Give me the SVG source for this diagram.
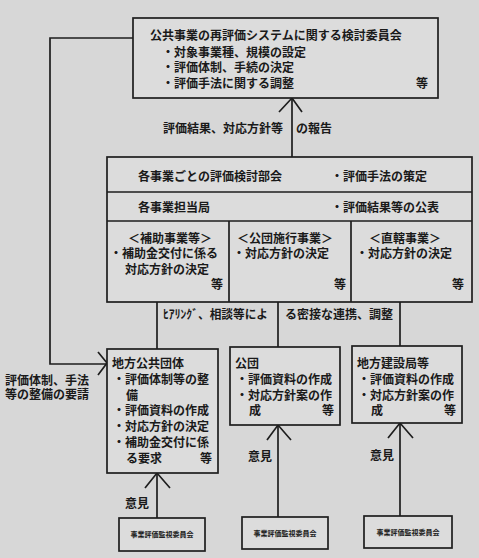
<svg xmlns="http://www.w3.org/2000/svg" width="479" height="558" viewBox="0 0 479 558">
<style>
  .bg{fill:#d7d7d7}
  .box{fill:#dcdcdc;stroke:#1e1e1e;stroke-width:1.7}
  .ln{fill:none;stroke:#1e1e1e;stroke-width:1.7}
  text{font-family:"Noto Sans CJK JP","Noto Sans CJK SC",sans-serif;font-size:12px;font-weight:bold;fill:#1a1a1a}
  .sm{font-size:7px;text-anchor:middle}
  .mid{text-anchor:middle}
</style>
<rect class="bg" x="0" y="0" width="479" height="558"/>

<g id="connectors">
  <polyline class="ln" points="133,38 50,38 50,364 106,364"/>
  <polyline class="ln" points="98,352 107,363 98,375"/>
  <line class="ln" x1="292" y1="157" x2="292" y2="98"/>
  <polyline class="ln" points="279,112 292,98 302,112"/>
  <line class="ln" x1="157" y1="302" x2="157" y2="349"/>
  <line class="ln" x1="278" y1="302" x2="278" y2="347"/>
  <line class="ln" x1="400" y1="302" x2="400" y2="346"/>
  <line class="ln" x1="157" y1="518" x2="157" y2="473"/>
  <polyline class="ln" points="145,488 157,473 170,488"/>
  <line class="ln" x1="278" y1="517" x2="278" y2="425"/>
  <polyline class="ln" points="267,440 278,425 291,440"/>
  <line class="ln" x1="400" y1="516" x2="400" y2="423"/>
  <polyline class="ln" points="388,438 400,423 413,438"/>
  <text x="5" y="385">評価体制、手法</text>
  <text x="5" y="399">等の整備の要請</text>
  <text x="163" y="132.5">評価結果、対応方針等</text>
  <text x="296" y="132.5">の報告</text>
  <text x="163" y="319" textLength="105" lengthAdjust="spacingAndGlyphs">ﾋｱﾘﾝｸﾞ、相談等によ</text>
  <text x="285" y="319">る密接な連携、調整</text>
  <text x="125" y="507.5">意見</text>
  <text x="248" y="460.5">意見</text>
  <text x="370" y="459.5">意見</text>
</g>

<g id="committee">
  <rect class="box" x="133" y="18" width="305" height="80"/>
  <text x="150" y="39.5">公共事業の再評価システムに関する検討委員会</text>
  <text x="162" y="56.5">・対象事業種、規模の設定</text>
  <text x="162" y="71.5">・評価体制、手続の決定</text>
  <text x="162" y="87.5">・評価手法に関する調整</text>
  <text x="416" y="87.5">等</text>
</g>

<g id="ministry">
  <rect class="box" x="107" y="157" width="365" height="145"/>
  <line class="ln" x1="107" y1="192" x2="472" y2="192"/>
  <line class="ln" x1="107" y1="221" x2="472" y2="221"/>
  <line class="ln" x1="229" y1="221" x2="229" y2="302"/>
  <line class="ln" x1="351" y1="221" x2="351" y2="302"/>
  <text x="138" y="180.5">各事業ごとの評価検討部会</text>
  <text x="331" y="180.5">・評価手法の策定</text>
  <text x="138" y="211.5">各事業担当局</text>
  <text x="331" y="211.5">・評価結果等の公表</text>
  <text class="mid" x="170" y="242.5">＜補助事業等＞</text>
  <text x="110" y="257.5">・補助金交付に係る</text>
  <text x="125" y="273.5">対応方針の決定</text>
  <text x="211" y="289">等</text>
  <text class="mid" x="285" y="242.5">＜公団施行事業＞</text>
  <text x="233" y="257.5">・対応方針の決定</text>
  <text x="334" y="289">等</text>
  <text class="mid" x="405" y="242.5">＜直轄事業＞</text>
  <text x="356" y="257.5">・対応方針の決定</text>
  <text x="452" y="289">等</text>
</g>

<g id="local-gov">
  <rect class="box" x="107" y="349" width="111" height="124"/>
  <text x="112" y="367.5">地方公共団体</text>
  <text x="113" y="384">・評価体制等の整</text>
  <text x="126" y="400">備</text>
  <text x="113" y="415">・評価資料の作成</text>
  <text x="113" y="431">・対応方針の決定</text>
  <text x="113" y="447">・補助金交付に係</text>
  <text x="126" y="463">る要求</text>
  <text x="200" y="463">等</text>
</g>

<g id="kodan">
  <rect class="box" x="230" y="347" width="110" height="78"/>
  <text x="235" y="367.5">公団</text>
  <text x="236" y="384">・評価資料の作成</text>
  <text x="236" y="399.5">・対応方針案の作</text>
  <text x="249" y="415">成</text>
  <text x="322" y="415">等</text>
</g>

<g id="regional-bureau">
  <rect class="box" x="352" y="346" width="110" height="77"/>
  <text x="357" y="367.5">地方建設局等</text>
  <text x="358" y="384">・評価資料の作成</text>
  <text x="358" y="399.5">・対応方針案の作</text>
  <text x="371" y="415">成</text>
  <text x="444" y="415">等</text>
</g>

<g id="monitor-1">
  <rect class="box" x="119" y="518" width="86" height="33"/>
  <text class="sm" x="162" y="537">事業評価監視委員会</text>
</g>
<g id="monitor-2">
  <rect class="box" x="242" y="517" width="86" height="32"/>
  <text class="sm" x="285" y="535.5">事業評価監視委員会</text>
</g>
<g id="monitor-3">
  <rect class="box" x="364" y="516" width="88" height="32"/>
  <text class="sm" x="408" y="534.5">事業評価監視委員会</text>
</g>
</svg>
